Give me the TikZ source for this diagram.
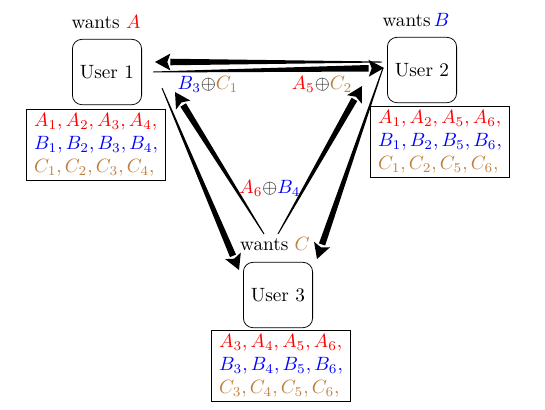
\documentclass[tikz,border=0pt]{standalone}
\usepackage{amsmath, amssymb}
\usepackage{tikz}
\usetikzlibrary{calc, positioning}
\tikzset{
	userbox/.style={draw, rounded corners=5pt, minimum width=36pt, minimum height=34pt, inner sep=0pt},
	listbox/.style={draw, semithick, align=left, inner xsep=4pt, inner ysep=2pt},
}
% tapered arrow from #1 to #2
\newcommand{\taperarrow}[2]{
	\coordinate (tb) at ($(#2)!8pt!(#1)$);
	\fill ($(#1)!0.25pt!90:(#2)$) -- ($(tb)!1.7pt!-90:(#1)$) -- ($(tb)!1.7pt!90:(#1)$) -- ($(#1)!0.25pt!-90:(#2)$) -- cycle;
	\fill (#2) -- ($(tb)!4.4pt!90:(#1)$) -- ($(tb)!1.6pt!(#2)$) -- ($(tb)!4.4pt!-90:(#1)$) -- cycle;
}

\begin{document}
\begin{tikzpicture}[x=0.52pt, y=-0.52pt]
			\useasboundingbox (0,0) rectangle (545,409);
			% users
			\node[userbox] (u1) at (107,72) {User 1};
			\node[userbox] (u2) at (422,70) {User 2};
			\node[userbox] (u3) at (278,295) {User 3};
			\node (w1) at (106,22) {wants $\color{red}A$};
			\node (w2) at (416,20) {wants$\,\color{blue}B$};
			\node (w3) at (275,244) {wants $\color{brown}C$};
			% side information
			\node[listbox] (s1) at (96,145) {$\color{red}A_1, A_2, A_3, A_4,$\\ $\color{blue}B_1, B_2, B_3, B_4,$\\ $\color{brown}C_1, C_2, C_3, C_4,$};
			\node[listbox] (s2) at (440,142) {$\color{red}A_1, A_2, A_5, A_6,$\\ $\color{blue}B_1, B_2, B_5, B_6,$\\ $\color{brown}C_1, C_2, C_5, C_6,$};
			\node[listbox] (s3) at (281,366) {$\color{red}A_3, A_4, A_5, A_6,$\\ $\color{blue}B_3, B_4, B_5, B_6,$\\ $\color{brown}C_3, C_4, C_5, C_6,$};
			% transmissions
			\coordinate (a12) at (153,72);  \coordinate (b12) at (384,68);
			\coordinate (a21) at (382,62);  \coordinate (b21) at (155,62);
			\coordinate (a13) at (162,88);  \coordinate (b13) at (239,270);
			\coordinate (a31) at (264,234); \coordinate (b31) at (175,92);
			\coordinate (a32) at (278,234); \coordinate (b32) at (362,86);
			\coordinate (a23) at (383,68);  \coordinate (b23) at (317,259);
			\taperarrow{a12}{b12}
			\taperarrow{a21}{b21}
			\taperarrow{a13}{b13}
			\taperarrow{a31}{b31}
			\taperarrow{a32}{b32}
			\taperarrow{a23}{b23}
			\node (x1) at (208,84) {$\color{blue}B_3\color{black}{\oplus}\color{brown}C_1$};
			\node (x2) at (322,84) {$\color{red}A_5\color{black}{\oplus}\color{brown}C_2$};
			\node (x3) at (270,188) {$\color{red}A_6\color{black}{\oplus}\color{blue}B_4$};
\end{tikzpicture}
\end{document}
